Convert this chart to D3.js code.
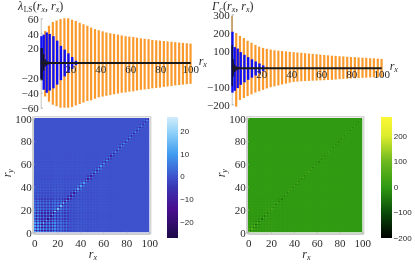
<!DOCTYPE html>
<html>
<head>
<meta charset="utf-8">
<script src="https://cdn.jsdelivr.net/npm/d3@7"></script>
<style>
  html, body { margin: 0; padding: 0; background: #fff; overflow: hidden; }
  svg { display: block; filter: blur(0.4px); }
  .tick-label { font-family: "Liberation Serif", serif; font-size: 11px; fill: #2a2a2a; }
  .bar-label { font-family: "Liberation Sans", sans-serif; font-size: 8px; fill: #2a2a2a; }
  .math { font-family: "Liberation Serif", serif; font-style: italic; font-size: 12px; fill: #2a2a2a; }
  .domain, .tick line { stroke: #b5b5b5; stroke-width: 0.8; }
</style>
</head>
<body>
<svg id="chart" width="415" height="264"></svg>
<script>
// Spike positions (shared by both panels)
const orangeX = [3,5.5,8.1,10.6,13.2,15.8,18.3,20.9,23.4,26,28.5,31.1,33.6,36.2,38.7,41.3,43.8,46.4,48.9,51.5,54,56.6,59.1,61.7,64.2,66.8,69.3,71.9,74.4,77,79.5,82.1,84.6,87.2,89.7,92.3,94.8,97.4,99.9];
const blueX = [0.5,2,4,6,8.5,11,13.5,16,18.5,21,23.5];
const blackX = [0.3,1,2,3,4,5];

// lambda_LS panel
const lambdaOrangeUp = [43,50,55,57,59,60,60,58,56.5,54,52,50,47.5,45.5,44,42.5,41,40,39,38,37,36,35.5,35,34,33,32.5,32,31,30.5,30,29.5,29,28.5,28,27.5,27,26.5,26];
const lambdaOrangeDown = [-45,-52,-56,-58,-60,-60,-60,-59,-57,-55,-53,-51,-50,-48,-46,-45,-44,-43,-42,-41,-40,-39.5,-38.5,-38,-37,-36,-35.5,-35,-34,-33.5,-33,-32,-31.5,-31,-30,-29.5,-29,-28.5,-28];
const lambdaBlueUp = [36,38,41,39,36,30,23,18,13,8,3];
const lambdaBlueDown = [-21,-36,-40,-37,-34,-29,-23,-18,-13,-8,-3];
const lambdaBlackUp = [20,20,12,5,3,2];
const lambdaBlackDown = [-23,-23,-10,-5,-3,-2];

// Gamma_c panel
const gammaOrangeUp = [196,180,168,153,142,130,120,113,108,104,100,98,96,94,92,90,88,86,84,82,80,78,76,74,72,70,69,67,66,64,63,62,60,59,58,56,55,54,52];
const gammaOrangeDown = [-213,-176,-165,-155,-145,-135,-128,-120,-112,-105,-100,-95,-90,-85,-80,-76,-74,-72,-71,-70,-69,-68,-67,-66,-65,-64,-62,-60,-59,-58,-56,-55,-54,-53,-52,-51,-50,-49,-48];
const gammaBlueUp = [203,118,110,90,75,62,50,38,27,16,4];
const gammaBlueDown = [-135,-125,-110,-92,-78,-64,-52,-40,-28,-16,-4];
const gammaBlackUp = [130,50,20,12,8,4];
const gammaBlackDown = [-100,-45,-20,-12,-8,-4];
const gammaSpikeX = [0.2];
const gammaSpikeUp = [290];

// Heat map readings: strength of the lattice by the larger coordinate (10 unit bands)
const lambdaLattice = [11,9,4.5,1.5,0.8,0.5,0.3,0.2,0.2,0.1];
const gammaLattice = [10,6,4,2,1.5,1,0.8,0.5,0.5,0.4];
// Strength next to the diagonal by band, both maps
const lambdaNearDiag = [11,8,6,5,4,3,2.5,2,1.5,1.5];
const gammaNearDiag = [30,18,12,8,6,5,4,3,3,2];
// Lattice sign by parity of the cell indices
const latticeSign = [[1,0],[0,-1]];
const lambdaBase = 0;
const gammaBase = 2;

// Colour bars
const lambdaStops = [-27,-14,-5,0,10,20,26.5];
const lambdaColors = ["#1c0a48","#4a0f90","#3a34b0","#3d52cc","#3f9cf0","#92d2f8","#d2ecfb"];
const gammaStops = [-200,-100,0,100,200,275];
const gammaColors = ["#000000","#0a4c0a","#2f9a12","#6cb81e","#dcec2e","#fdf835"];

const axisTicks = [20,40,60,80,100];
const lambdaTicks = [-60,-40,-20,20,40,60];
const gammaTicks = [-200,-100,100,200,300];
const heatTicks = [0,20,40,60,80,100];
const lambdaBarTicks = [-20,-10,0,10,20];
const gammaBarTicks = [-200,-100,0,100,200];

const svg = d3.select("#chart");

function drawSpikes(g, xs, ups, downs, x, y, color, width) {
  g.selectAll(null)
    .data(xs)
    .join("line")
    .attr("x1", d => x(d))
    .attr("x2", d => x(d))
    .attr("y1", (d, i) => y(ups[i]))
    .attr("y2", (d, i) => y(downs[i]))
    .attr("stroke", color)
    .attr("stroke-width", width);
}

function drawLinePanel(p) {
  const g = svg.append("g");
  const x = d3.scaleLinear().domain([0, 100]).range(p.xRange);
  const y = d3.scaleLinear().domain(p.yDomain).range(p.yRange);

  const yAxis = g.append("g")
    .attr("transform", `translate(${p.xRange[0]},0)`)
    .call(d3.axisLeft(y).tickValues(p.yTicks).tickSize(-2));
  yAxis.selectAll("text").attr("class", "tick-label").attr("x", -2).attr("dy", "0.35em");

  drawSpikes(g, orangeX, p.orangeUp, p.orangeDown, x, y, "#fb9a2c", 2.2);
  if (p.spikeX) drawSpikes(g, p.spikeX, p.spikeUp, p.spikeUp.map(() => 0), x, y, "#b87a30", 1.2);
  drawSpikes(g, blueX, p.blueUp, p.blueDown, x, y, "#1010f0", 2.4);
  drawSpikes(g, blackX, p.blackUp, p.blackDown, x, y, "#111", 1.2);

  g.append("line")
    .attr("x1", x(0)).attr("x2", x(100))
    .attr("y1", y(0)).attr("y2", y(0))
    .attr("stroke", "#1a1a1a").attr("stroke-width", 2);

  g.selectAll(null)
    .data(axisTicks)
    .join("text")
    .attr("class", "tick-label")
    .attr("text-anchor", "middle")
    .attr("x", d => x(d))
    .attr("y", y(0) + 10)
    .text(d => d);

  drawMath(g, p.xRange[1] + 8, y(0) + 2, "r", "x");
  drawTitle(g, p.titleX, 9.5, p.symbol, p.sub);
}

function drawMath(g, px, py, base, sub, rotate) {
  const t = g.append("text").attr("class", "math");
  if (rotate) t.attr("transform", `translate(${px},${py}) rotate(-90)`);
  else t.attr("x", px).attr("y", py);
  t.append("tspan").text(base);
  t.append("tspan").attr("dy", 2).attr("font-size", 8).text(sub);
}

function drawTitle(g, px, py, symbol, sub) {
  const t = g.append("text").attr("class", "math").attr("x", px).attr("y", py);
  t.append("tspan").text(symbol);
  t.append("tspan").attr("dx", 0.5).attr("dy", 2).attr("font-size", 7.5).attr("font-style", sub === "LS" ? "normal" : "italic").text(sub);
  t.append("tspan").attr("dx", 0.3).attr("dy", -2).attr("font-style", "normal").text("(");
  t.append("tspan").text("r");
  t.append("tspan").attr("dy", 2).attr("font-size", 8).text("x");
  t.append("tspan").attr("dy", -2).attr("font-style", "normal").text(", ");
  t.append("tspan").text("r");
  t.append("tspan").attr("dy", 2).attr("font-size", 8).text("x");
  t.append("tspan").attr("dy", -2).attr("font-style", "normal").text(")");
}

function drawHeatPanel(p) {
  const g = svg.append("g");
  const x = d3.scaleLinear().domain([0, 100]).range(p.xRange);
  const y = d3.scaleLinear().domain([0, 100]).range(p.yRange);
  const color = d3.scaleLinear().domain(p.stops).range(p.colors).clamp(true);

  // Base colour underneath so no white shows between the cells
  g.append("rect")
    .attr("x", x(0)).attr("y", y(100))
    .attr("width", x(100) - x(0))
    .attr("height", y(0) - y(100))
    .attr("fill", color(p.base));

  // Lattice cells: one cell is half of a spike spacing
  const cellSize = 1.25;
  const cells = [];
  d3.range(80).forEach(i => d3.range(80).forEach(j => cells.push([i, j])));

  const band = r => Math.min(9, Math.floor(r / 10));
  const cellValue = ([i, j]) => {
    const rMax = Math.max(i, j) * cellSize;
    const sign = latticeSign[i % 2][j % 2];
    if (i === j) {
      const spike = d3.bisectLeft(orangeX, i * cellSize);
      const k = Math.min(spike, orangeX.length - 1);
      return sign > 0 ? p.orangeUp[k] * p.diagScale : p.orangeDown[k] * p.diagScale;
    }
    if (Math.abs(i - j) === 2) return p.base + sign * p.nearDiag[band(rMax)];
    return p.base + sign * p.lattice[band(rMax)];
  };

  g.append("g")
    .attr("shape-rendering", "crispEdges")
    .selectAll("rect")
    .data(cells)
    .join("rect")
    .attr("x", d => x(d[0] * cellSize))
    .attr("y", d => y((d[1] + 1) * cellSize))
    .attr("width", x(cellSize) - x(0) + 0.05)
    .attr("height", y(0) - y(cellSize) + 0.05)
    .attr("fill", d => color(cellValue(d)));

  // Frame sits just outside of the map
  const bottom = p.yRange[0] + 1.5;
  const left = p.xRange[0] - 1.5;

  const ax = g.append("g").attr("transform", `translate(0,${bottom})`)
    .call(d3.axisBottom(x).tickValues(heatTicks).tickSize(-2));
  ax.selectAll("text").attr("class", "tick-label").attr("y", 5).attr("dy", "0.71em");

  const ay = g.append("g").attr("transform", `translate(${left},0)`)
    .call(d3.axisLeft(y).tickValues(heatTicks).tickSize(-2));
  ay.selectAll("text").attr("class", "tick-label").attr("x", -1).attr("dy", "0.35em");

  g.append("rect")
    .attr("x", left).attr("y", p.yRange[1] - 1.5)
    .attr("width", p.xRange[1] - p.xRange[0] + 3)
    .attr("height", p.yRange[0] - p.yRange[1] + 3)
    .attr("fill", "none").attr("stroke", "#c4c4c4").attr("stroke-width", 1);

  drawMath(g, (p.xRange[0] + p.xRange[1]) / 2 - 3, 258, "r", "x");
  drawMath(g, p.xRange[0] - 23, (p.yRange[0] + p.yRange[1]) / 2 + 2, "r", "y", true);

  // Colour bar
  const by = d3.scaleLinear().domain(p.barDomain).range([237.7, 116.7]);
  const steps = d3.range(121);
  g.append("g")
    .attr("shape-rendering", "crispEdges")
    .selectAll("rect")
    .data(steps)
    .join("rect")
    .attr("x", p.barX)
    .attr("y", d => 116.7 + d)
    .attr("width", p.barWidth)
    .attr("height", 1.2)
    .attr("fill", d => color(by.invert(116.7 + d + 0.5)));

  g.selectAll(null)
    .data(p.barTicks)
    .join("text")
    .attr("class", "bar-label")
    .attr("x", p.barX + p.barWidth + 2)
    .attr("y", d => by(d))
    .attr("dy", "0.35em")
    .text(d => d3.format("")(d).replace("-", "\u2212"));
}

drawLinePanel({
  xRange: [40.7, 190.7], yDomain: [-60, 60], yRange: [107.7, 18.3], yTicks: lambdaTicks,
  orangeUp: lambdaOrangeUp, orangeDown: lambdaOrangeDown,
  blueUp: lambdaBlueUp, blueDown: lambdaBlueDown,
  blackUp: lambdaBlackUp, blackDown: lambdaBlackDown,
  titleX: 18, symbol: "\u03bb", sub: "LS"
});

drawLinePanel({
  xRange: [231.7, 381.7], yDomain: [-200, 300], yRange: [104.3, 14.3], yTicks: gammaTicks,
  orangeUp: gammaOrangeUp, orangeDown: gammaOrangeDown,
  blueUp: gammaBlueUp, blueDown: gammaBlueDown,
  blackUp: gammaBlackUp, blackDown: gammaBlackDown,
  spikeX: gammaSpikeX, spikeUp: gammaSpikeUp,
  titleX: 212, symbol: "\u0393", sub: "c"
});

drawHeatPanel({
  xRange: [34.3, 149.3], yRange: [232.3, 118.3],
  stops: lambdaStops, colors: lambdaColors, barDomain: [-27, 26.5],
  base: lambdaBase, lattice: lambdaLattice, nearDiag: lambdaNearDiag,
  orangeUp: lambdaOrangeUp, orangeDown: lambdaOrangeDown, diagScale: 0.28,
  barX: 166.7, barWidth: 11.5, barTicks: lambdaBarTicks
});

drawHeatPanel({
  xRange: [248.3, 362.3], yRange: [232.3, 118.3],
  stops: gammaStops, colors: gammaColors, barDomain: [-200, 275],
  base: gammaBase, lattice: gammaLattice, nearDiag: gammaNearDiag,
  orangeUp: gammaOrangeUp, orangeDown: gammaOrangeDown, diagScale: 0.35,
  barX: 380.7, barWidth: 11, barTicks: gammaBarTicks
});
</script>
</body>
</html>
